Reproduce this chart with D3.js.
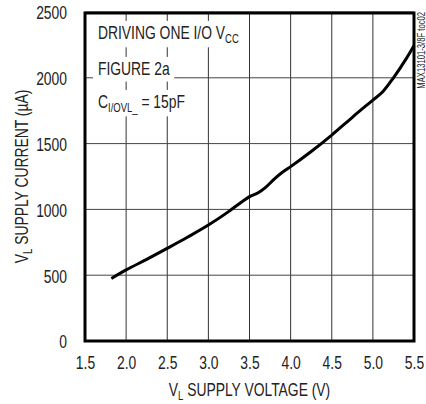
<!DOCTYPE html>
<html><head><meta charset="utf-8">
<script src="https://cdn.jsdelivr.net/npm/d3@7"></script>
<style>
html,body{margin:0;padding:0;background:#fff;}
svg{display:block;}
text{font-family:"Liberation Sans",Arial,sans-serif;fill:#222;}
</style></head>
<body>
<svg id="c" width="426" height="404"></svg>
<script>
// data
const voltage = [1.82, 2.0, 2.25, 2.5, 2.75, 3.0, 3.25, 3.4, 3.5, 3.6, 3.7, 3.8, 3.9, 4.0, 4.25, 4.5, 4.75, 5.0, 5.12, 5.25, 5.4, 5.5];
const current = [475, 540, 620, 704, 790, 881, 985, 1055, 1097, 1125, 1170, 1230, 1282, 1325, 1440, 1565, 1700, 1831, 1894, 2000, 2140, 2245];
const xTicks = [1.5, 2.0, 2.5, 3.0, 3.5, 4.0, 4.5, 5.0, 5.5];
const yTicks = [0, 500, 1000, 1500, 2000, 2500];

const svg = d3.select("#c");
const L = 85, T = 12, W = 329, H = 329;
const SX = 0.73; // narrow font emulation
const fs = 19, sfs = 13;
const x = d3.scaleLinear().domain([1.5, 5.5]).range([L, L + W]);
const y = d3.scaleLinear().domain([0, 2500]).range([T + H, T]);

// grid
svg.append("g").selectAll("line").data(xTicks).join("line")
  .attr("x1", d => x(d)).attr("x2", d => x(d)).attr("y1", T).attr("y2", T + H)
  .attr("stroke", "#333").attr("stroke-width", 1);
svg.append("g").selectAll("line").data(yTicks).join("line")
  .attr("x1", L).attr("x2", L + W).attr("y1", d => y(d)).attr("y2", d => y(d))
  .attr("stroke", "#444").attr("stroke-width", 1);

// helper: write parts with subscripts
function fill(t, parts) {
  let down = false;
  parts.forEach(p => {
    if (p.sub) {
      t.append("tspan").attr("font-size", sfs).attr("dy", 4).text(p.sub);
      down = true;
    } else {
      const s = t.append("tspan").text(p.t);
      if (down) { s.attr("dy", -4); down = false; }
    }
  });
}

// annotations with white backgrounds
const ann = svg.append("g");
const ax = 98;
function addLine(baseline, parts) {
  const bg = ann.append("rect").attr("fill", "#fff");
  const t = ann.append("text").attr("x", ax).attr("y", baseline).attr("font-size", fs)
    .attr("transform", `translate(${ax},0) scale(${SX},1) translate(${-ax},0)`);
  fill(t, parts);
  const b = t.node().getBBox();
  const bx = ax + (b.x - ax) * SX, bw = b.width * SX;
  bg.attr("x", bx - 5).attr("y", b.y - 1).attr("width", bw + 9).attr("height", b.height + 3);
}
addLine(39, [{t: "DRIVING ONE I/O V"}, {sub: "CC"}]);
addLine(75, [{t: "FIGURE 2a"}]);
addLine(108, [{t: "C"}, {sub: "I/OVL_"}, {t: " = 15pF"}]);

// curve
const pts = voltage.map((v, i) => [v, current[i]]);
svg.append("path").datum(pts)
  .attr("fill", "none").attr("stroke", "#000").attr("stroke-width", 3)
  .attr("stroke-linejoin", "round")
  .attr("d", d3.line().x(d => x(d[0])).y(d => y(d[1])).curve(d3.curveMonotoneX));

// frame
svg.append("rect").attr("x", L).attr("y", T + 1).attr("width", W).attr("height", H - 1)
  .attr("fill", "none").attr("stroke", "#000").attr("stroke-width", 3);

// axes
const xAxis = d3.axisBottom(x).tickValues(xTicks).tickFormat(d3.format(".1f")).tickSize(0);
const gx = svg.append("g").attr("transform", `translate(0,${T + H})`).call(xAxis);
gx.select(".domain").remove();
gx.selectAll("text").attr("font-size", fs).attr("fill", "#222").attr("font-family", null)
  .attr("y", 28).attr("dy", 0).attr("transform", `scale(${SX},1)`);

const yAxis = d3.axisLeft(y).tickValues(yTicks).tickFormat(d3.format("d")).tickSize(0);
const gy = svg.append("g").attr("transform", `translate(${L},0)`).call(yAxis);
gy.select(".domain").remove();
gy.selectAll("text").attr("font-size", fs).attr("fill", "#222").attr("font-family", null)
  .attr("x", 0).attr("dy", "0.36em").attr("transform", `translate(-18,0) scale(${SX},1)`);

// axis titles
const xt = svg.append("text").attr("transform", `translate(${L + W / 2},396) scale(${SX},1)`)
  .attr("text-anchor", "middle").attr("font-size", fs);
fill(xt, [{t: "V"}, {sub: "L"}, {t: " SUPPLY VOLTAGE (V)"}]);

const yt = svg.append("text").attr("transform", `translate(28,${T + H / 2}) rotate(-90) scale(${SX},1)`)
  .attr("text-anchor", "middle").attr("font-size", fs);
fill(yt, [{t: "V"}, {sub: "L"}, {t: " SUPPLY CURRENT (\u00B5A)"}]);

// side label
svg.append("text").attr("transform", `translate(425,12) rotate(-90) scale(${SX},1)`)
  .attr("text-anchor", "end").attr("font-size", 10.5).attr("fill", "#333")
  .text("MAX13101-3/8F toc02");
</script>
</body></html>
